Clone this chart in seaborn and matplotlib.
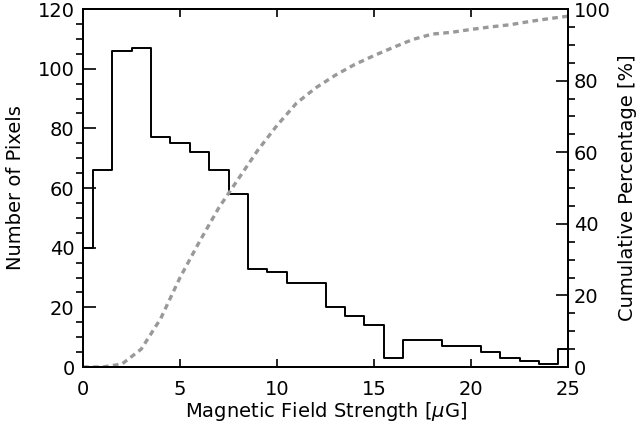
import numpy as np
import pandas as pd
import matplotlib
matplotlib.use("Agg")
import matplotlib.pyplot as plt
import seaborn as sns

# Bin centres (muG) and pixel counts
field = list(range(0, 26))
counts = [40, 66, 106, 107, 77, 75, 72, 66, 58, 33, 32, 28, 28, 20, 17, 14,
          3, 9, 9, 7, 7, 5, 3, 2, 1, 6]
# Cumulative percentage curve
cum_pct = [0, 0, 0.8, 5, 13.5, 25, 35, 44.5, 52.5, 60.5, 67.5, 73.7, 78,
           81.5, 84.5, 87, 89.3, 91.5, 93, 93.5, 94.3, 95, 95.6, 96.5, 97.3, 98]

xticks = [0, 5, 10, 15, 20, 25]
yticks_left = [0, 20, 40, 60, 80, 100, 120]
yticks_right = [0, 20, 40, 60, 80, 100]

df = pd.DataFrame({"field": field, "counts": counts, "cum": cum_pct})

plt.rcParams['font.family'] = ['DejaVu Sans']
FS = 14
fig = plt.figure(figsize=(6.4, 4.29), dpi=100)
ax = fig.add_axes([0.1297, 0.1445, 0.758, 0.8345])

sns.histplot(data=df, x="field", weights="counts", discrete=True,
             element="step", fill=False, color="black", linewidth=1.4, ax=ax)
ax.set_xlim(0, 25)
ax.set_ylim(0, 120)
ax.set_xticks(xticks)
ax.set_yticks(yticks_left)
ax.set_yticks(np.arange(0, 121, 5), minor=True)
ax.tick_params(axis="both", direction="in", labelsize=FS, width=1.2)
ax.tick_params(axis="y", which="major", length=9, pad=6)
ax.tick_params(axis="y", which="minor", length=5, width=1.2)
ax.tick_params(axis="x", which="major", length=6, top=True, pad=9)
ax.set_xlabel("Magnetic Field Strength [$\\mu$G]", fontsize=FS, labelpad=1)
ax.set_ylabel("Number of Pixels", fontsize=FS, labelpad=9)

ax2 = ax.twinx()
sns.lineplot(data=df, x="field", y="cum", color="#999999", linewidth=2.4,
             linestyle=(0, (1.7, 1.3)), ax=ax2)
ax2.set_ylim(0, 100)
ax2.set_yticks(yticks_right)
ax2.set_yticks(np.arange(0, 101, 5), minor=True)
ax2.tick_params(axis="y", direction="in", labelsize=FS, width=1.2)
ax2.tick_params(axis="y", which="major", length=9, pad=4)
ax2.tick_params(axis="y", which="minor", length=5, width=1.2)
ax2.set_ylabel("Cumulative Percentage [%]", fontsize=FS, labelpad=5)
ax2.set_xlim(0, 25)

for a in (ax, ax2):
    for s in a.spines.values():
        s.set_linewidth(1.4)
        s.set_color("black")

fig.savefig("out.png", dpi=100)
